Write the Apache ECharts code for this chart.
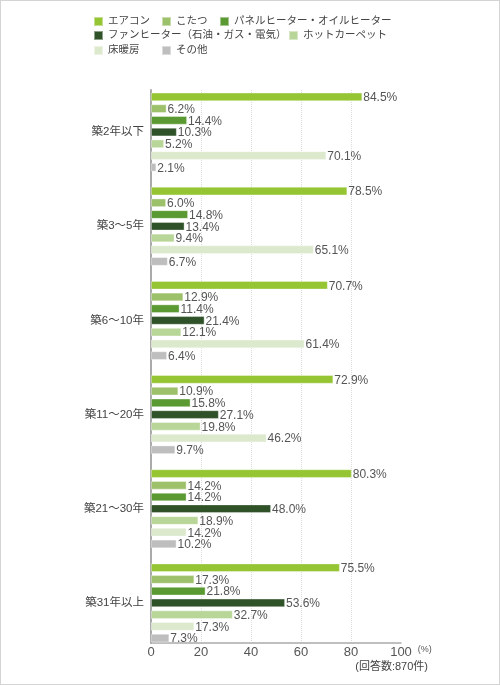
<!DOCTYPE html>
<html>
<head>
<meta charset="utf-8">
<script src="https://cdn.jsdelivr.net/npm/echarts@6/dist/echarts.min.js"></script>
<style>
  html, body { margin: 0; padding: 0; background: #fff; }
  #chart { width: 500px; height: 685px; box-sizing: border-box; border: 1px solid #d4d4d4; }
</style>
</head>
<body>
<div id="chart"></div>
<script>
// building age groups
const categories = ['築2年以下', '築3～5年', '築6～10年', '築11～20年', '築21～30年', '築31年以上'];

const seriesNames = [
  'エアコン', 'こたつ', 'パネルヒーター・オイルヒーター',
  'ファンヒーター（石油・ガス・電気）', 'ホットカーペット', '床暖房', 'その他'
];
const seriesColors = ['#95c532', '#9dc06b', '#5b9a33', '#2f5229', '#b8d698', '#dce9cd', '#bebebe'];

// values per heater type, in order of categories (%)
const aircon      = [84.5, 78.5, 70.7, 72.9, 80.3, 75.5];
const kotatsu     = [6.2, 6.0, 12.9, 10.9, 14.2, 17.3];
const panelHeater = [14.4, 14.8, 11.4, 15.8, 14.2, 21.8];
const fanHeater   = [10.3, 13.4, 21.4, 27.1, 48.0, 53.6];
const hotCarpet   = [5.2, 9.4, 12.1, 19.8, 18.9, 32.7];
const floorHeat   = [70.1, 65.1, 61.4, 46.2, 14.2, 17.3];
const others      = [2.1, 6.7, 6.4, 9.7, 10.2, 7.3];

const seriesValues = [aircon, kotatsu, panelHeater, fanHeater, hotCarpet, floorHeat, others];

const xTicks = [0, 20, 40, 60, 80, 100];

const FONT = "'Liberation Sans', 'Noto Sans CJK JP', sans-serif";

// legend item placement (three rows like the original)
const legendPos = [
  [92, 15], [160, 15], [218, 15],
  [92, 29], [287, 29],
  [92, 44], [160, 44]
];

const chart = echarts.init(document.getElementById('chart'), null, { renderer: 'canvas' });

const legends = seriesNames.map((name, i) => ({
  data: [name],
  left: legendPos[i][0],
  top: legendPos[i][1],
  padding: 0,
  icon: 'rect',
  itemWidth: 9,
  itemHeight: 9,
  itemGap: 0,
  selectedMode: false,
  textStyle: { fontSize: 10.5, color: '#444', fontFamily: FONT }
}));

const series = seriesNames.map((name, i) => ({
  name,
  type: 'bar',
  xAxisIndex: 0,
  yAxisIndex: 0,
  data: seriesValues[i],
  barWidth: 8.5,
  barGap: '38%',
  itemStyle: { color: seriesColors[i], borderColor: 'rgba(255,255,255,0.45)', borderWidth: 0.8 },
  label: {
    show: true,
    position: 'right',
    distance: 1,
    offset: [0, 1],
    fontSize: 12,
    color: '#555',
    fontFamily: FONT,
    formatter: p => p.value.toFixed(1) + '%'
  },
  animation: false
}));

const option = {
  backgroundColor: '#fff',
  legend: legends,
  title: {
    text: '(回答数:870件)',
    right: 71,
    top: 660,
    padding: 0,
    textStyle: { fontSize: 11, fontWeight: 'normal', color: '#444', fontFamily: FONT }
  },
  grid: [
    // bars
    { left: 150, width: 250, top: 84, height: 565 },
    // axis frame
    { left: 150, width: 250, top: 89, height: 553 }
  ],
  xAxis: [
    { gridIndex: 0, type: 'value', min: 0, max: 100, show: false },
    {
      gridIndex: 1,
      type: 'value',
      min: xTicks[0],
      max: xTicks[xTicks.length - 1],
      interval: 20,
      name: '(%)',
      nameLocation: 'end',
      nameGap: 4,
      nameTextStyle: { fontSize: 9, color: '#555', fontFamily: FONT, verticalAlign: 'top', padding: [2, 0, 0, 0] },
      axisLine: { show: true, lineStyle: { color: '#aaa', width: 1.5 } },
      axisTick: { show: false },
      axisLabel: { fontSize: 13, color: '#555', margin: 3, fontFamily: FONT },
      splitLine: {
        show: true,
        showMinLine: false,
        showMaxLine: false,
        lineStyle: { color: '#dcdcdc', type: 'dotted', width: 1 }
      }
    }
  ],
  yAxis: [
    {
      gridIndex: 0,
      type: 'category',
      data: categories,
      inverse: true,
      axisLine: { show: false },
      axisTick: { show: false },
      axisLabel: { fontSize: 11.5, color: '#444', margin: 7, fontFamily: FONT }
    },
    {
      gridIndex: 1,
      type: 'value',
      min: 0,
      max: 1,
      axisLine: { show: true, lineStyle: { color: '#aaa', width: 2 } },
      axisTick: { show: false },
      axisLabel: { show: false },
      splitLine: { show: false }
    }
  ],
  series
};

chart.setOption(option);
</script>
</body>
</html>
